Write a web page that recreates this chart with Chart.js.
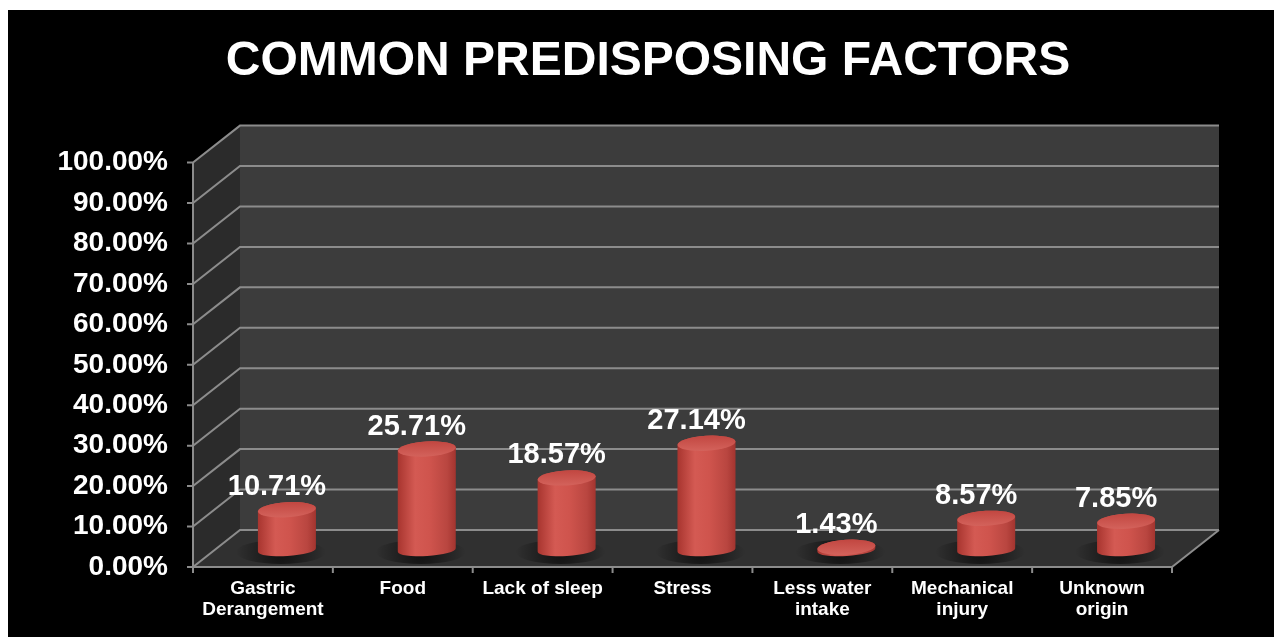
<!DOCTYPE html>
<html>
<head>
<meta charset="utf-8">
<script src="https://cdn.jsdelivr.net/npm/chart.js@4.4.0/dist/chart.umd.min.js"></script>
<style>
  html, body { margin: 0; padding: 0; background: #fff; }
  #wrap { position: absolute; left: 8px; top: 10px; width: 1266px; height: 627px; background: #000; }
</style>
</head>
<body>
<div id="wrap"><canvas id="myChart"></canvas></div>
<script>
// categories and values (percent)
const categorias = [['Gastric', 'Derangement'], 'Food', 'Lack of sleep', 'Stress', ['Less water', 'intake'], ['Mechanical', 'injury'], ['Unknown', 'origin']];
const valores = [10.71, 25.71, 18.57, 27.14, 1.43, 8.57, 7.85];
const etiquetasValor = ['10.71%', '25.71%', '18.57%', '27.14%', '1.43%', '8.57%', '7.85%'];
const ticksY = [0, 10, 20, 30, 40, 50, 60, 70, 80, 90, 100];

// depth of the fake 3d box
const DX = 47, DY = -37;

const caja3d = {
    id: 'caja3d',
    beforeDatasetsDraw(chart) {
        const ctx = chart.ctx;
        const a = chart.chartArea;
        const y = chart.scales.y;
        const x = chart.scales.x;
        const L = a.left, R = a.right, T = a.top, B = a.bottom;
        ctx.save();
        // back wall
        ctx.fillStyle = '#3c3c3c';
        ctx.fillRect(L + DX, T + DY, R - L, B - T);
        // left wall
        ctx.fillStyle = '#2b2b2b';
        ctx.beginPath();
        ctx.moveTo(L, B); ctx.lineTo(L, T); ctx.lineTo(L + DX, T + DY); ctx.lineTo(L + DX, B + DY);
        ctx.closePath(); ctx.fill();
        // floor
        ctx.fillStyle = '#303030';
        ctx.beginPath();
        ctx.moveTo(L, B); ctx.lineTo(R, B); ctx.lineTo(R + DX, B + DY); ctx.lineTo(L + DX, B + DY);
        ctx.closePath(); ctx.fill();

        // grid lines
        ctx.strokeStyle = '#8c8c8c';
        ctx.lineWidth = 2;
        ticksY.forEach(v => {
            const py = y.getPixelForValue(v);
            ctx.beginPath();
            ctx.moveTo(L - 6, py); ctx.lineTo(L, py);
            ctx.lineTo(L + DX, py + DY); ctx.lineTo(R + DX, py + DY);
            ctx.stroke();
        });
        // front axis + floor edges
        ctx.beginPath();
        ctx.moveTo(L, T); ctx.lineTo(L, B); ctx.lineTo(R, B); ctx.lineTo(R + DX, B + DY);
        ctx.stroke();
        // category ticks
        const paso = x.getPixelForTick(1) - x.getPixelForTick(0);
        for (let i = 0; i <= categorias.length; i++) {
            const px = i < categorias.length ? x.getPixelForTick(i) - paso / 2 : R;
            ctx.beginPath();
            ctx.moveTo(px, B); ctx.lineTo(px, B + 6);
            ctx.stroke();
        }
        ctx.restore();
    },
    afterDatasetsDraw(chart) {
        const ctx = chart.ctx;
        const meta = chart.getDatasetMeta(0);
        ctx.save();
        meta.data.forEach((bar, i) => {
            const cx = bar.x + 24;
            const r = bar.width / 2;
            const topY = bar.y - 14;
            const baseY = bar.base - 17;
            const ryT = 7.5, ryB = 6;
            const yt = Math.min(topY, baseY - 1);

            // shadow on the floor
            const sh = ctx.createRadialGradient(cx - 6, baseY + 2, 4, cx - 6, baseY + 2, r + 16);
            sh.addColorStop(0, 'rgba(0,0,0,0.6)');
            sh.addColorStop(1, 'rgba(0,0,0,0)');
            ctx.fillStyle = sh;
            ctx.beginPath();
            ctx.ellipse(cx - 6, baseY + 2, r + 16, 12, 0, 0, Math.PI * 2);
            ctx.fill();

            // body
            const g = ctx.createLinearGradient(cx - r, 0, cx + r, 0);
            g.addColorStop(0, '#a8352f');
            g.addColorStop(0.3, '#d45a53');
            g.addColorStop(0.55, '#cf544d');
            g.addColorStop(0.85, '#b94640');
            g.addColorStop(1, '#a3342f');
            ctx.fillStyle = g;
            ctx.beginPath();
            ctx.moveTo(cx - r, yt);
            ctx.lineTo(cx - r, baseY);
            ctx.ellipse(cx, baseY, r, ryB, -0.06, Math.PI, 0, true);
            ctx.lineTo(cx + r, yt);
            ctx.ellipse(cx, yt, r, ryT, -0.06, 0, Math.PI, true);
            ctx.closePath();
            ctx.fill();

            // top cap
            const gt = ctx.createLinearGradient(0, yt - ryT, 0, yt + ryT);
            gt.addColorStop(0, '#c24741');
            gt.addColorStop(1, '#d3625b');
            ctx.fillStyle = gt;
            ctx.beginPath();
            ctx.ellipse(cx, yt, r, ryT, -0.06, 0, Math.PI * 2);
            ctx.fill();

            // value label
            ctx.fillStyle = '#ffffff';
            ctx.font = 'bold 29px "Liberation Sans", Arial, sans-serif';
            ctx.textAlign = 'center';
            ctx.textBaseline = 'alphabetic';
            ctx.fillText(etiquetasValor[i], bar.x + 14, yt - ryT - 7);
        });
        ctx.restore();
    }
};

const grafica = document.querySelector('#myChart');

new Chart(grafica, {
    type: 'bar',
    data: {
        labels: categorias,
        datasets: [{
            label: 'Predisposing factors',
            data: valores,
            backgroundColor: 'rgba(0,0,0,0)',
            borderWidth: 0,
            categoryPercentage: 1,
            barPercentage: 0.415
        }]
    },
    options: {
        responsive: true,
        maintainAspectRatio: false,
        animation: false,
        layout: { padding: { left: 14, right: 0, top: 0, bottom: 0 } },
        plugins: {
            legend: { display: false },
            tooltip: { enabled: false },
            title: {
                display: true,
                text: 'COMMON PREDISPOSING FACTORS',
                color: '#ffffff',
                font: { family: '"Liberation Sans", Arial, sans-serif', size: 48, weight: 'bold', lineHeight: 1.2 },
                padding: { top: 23, bottom: 72 }
            }
        },
        scales: {
            x: {
                grid: { display: false, drawTicks: false },
                border: { display: false },
                ticks: {
                    color: '#ffffff',
                    padding: 11,
                    maxRotation: 0,
                    autoSkip: false,
                    font: { family: '"Liberation Sans", Arial, sans-serif', size: 19, weight: 'bold', lineHeight: 1.1 }
                },
                afterFit(s) { s.height = 70; }
            },
            y: {
                min: 0,
                max: 100,
                grid: { display: false, drawTicks: false },
                border: { display: false },
                ticks: {
                    stepSize: 10,
                    color: '#ffffff',
                    padding: 25,
                    font: { family: '"Liberation Sans", Arial, sans-serif', size: 28, weight: 'bold' },
                    callback: (v) => v.toFixed(2) + '%'
                },
                afterFit(s) { s.width = 171; }
            },
            derecha: {
                position: 'right',
                min: 0,
                max: 100,
                grid: { display: false, drawTicks: false },
                border: { display: false },
                ticks: { display: false },
                afterFit(s) { s.width = 102; }
            }
        }
    },
    plugins: [caja3d]
});
</script>
</body>
</html>
